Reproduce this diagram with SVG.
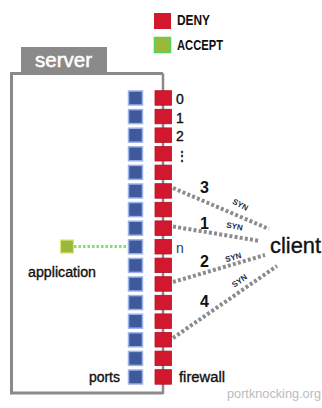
<svg xmlns="http://www.w3.org/2000/svg" width="322" height="408" viewBox="0 0 322 408">
<defs>
<style>
.t{font-family:"Liberation Sans",Arial,sans-serif;fill:#111}
.m{stroke:#111;stroke-width:0.35}
.b{font-weight:bold}
.red{fill:#D2182E;stroke:#B01226;stroke-width:0.8}
.blue{fill:#3E5A9B;stroke:#9EB2EC;stroke-width:1.5}
.knock{fill:none;stroke:#8C8C8C;stroke-width:4;stroke-dasharray:3 2.2}
.syn{font-family:"Liberation Sans",Arial,sans-serif;font-size:8px;font-weight:bold;fill:#1E2A4E}
</style>
</defs>
<rect width="322" height="408" fill="#fff"/>
<g id="legend">
<rect x="154" y="13" width="17" height="16" fill="#D2182E"/>
<text class="t b" x="177" y="25" font-size="14" textLength="33" lengthAdjust="spacingAndGlyphs">DENY</text>
<rect x="154.5" y="37.5" width="16" height="15" fill="#9AB83A" stroke="#55D455" stroke-width="1.5"/>
<text class="t b" x="177" y="50" font-size="14" textLength="46" lengthAdjust="spacingAndGlyphs">ACCEPT</text>
</g>
<g id="server">
<rect x="21" y="47" width="86" height="26" fill="#8A8A8A"/>
<text x="35" y="67" font-family="Liberation Sans,Arial,sans-serif" font-size="20" fill="#fff" stroke="#fff" stroke-width="0.5" textLength="57" lengthAdjust="spacingAndGlyphs">server</text>
<path d="M163,393 L11.5,393 L11.5,73.5 L163,73.5" fill="none" stroke="#8A8A8A" stroke-width="3"/>
</g>
<g id="firewall">
<line x1="163" y1="73.5" x2="163" y2="394" stroke="#8A8A8A" stroke-width="2.5"/>
<g id="fw-squares">
<rect class="red" x="155" y="90.7" width="16.5" height="14.5"/>
<rect class="red" x="155" y="109.3" width="16.5" height="14.5"/>
<rect class="red" x="155" y="127.9" width="16.5" height="14.5"/>
<rect class="red" x="155" y="146.5" width="16.5" height="14.5"/>
<rect class="red" x="155" y="165.1" width="16.5" height="14.5"/>
<rect class="red" x="155" y="183.7" width="16.5" height="14.5"/>
<rect class="red" x="155" y="202.3" width="16.5" height="14.5"/>
<rect class="red" x="155" y="220.9" width="16.5" height="14.5"/>
<rect class="red" x="155" y="239.5" width="16.5" height="14.5"/>
<rect class="red" x="155" y="258.1" width="16.5" height="14.5"/>
<rect class="red" x="155" y="276.7" width="16.5" height="14.5"/>
<rect class="red" x="155" y="295.3" width="16.5" height="14.5"/>
<rect class="red" x="155" y="313.9" width="16.5" height="14.5"/>
<rect class="red" x="155" y="332.5" width="16.5" height="14.5"/>
<rect class="red" x="155" y="351.1" width="16.5" height="14.5"/>
<rect class="red" x="155" y="369.7" width="16.5" height="14.5"/>
</g>
<text class="t m" x="176" y="104" font-size="14">0</text>
<text class="t m" x="176" y="122.6" font-size="14">1</text>
<text class="t m" x="176" y="141.2" font-size="14">2</text>
<text class="t b" x="176" y="159.5" font-size="12">⋮</text>
<text class="t" x="176" y="252.5" font-size="14" style="fill:#2A3A66">n</text>
<text class="t m" x="179" y="382" font-size="14" textLength="46" lengthAdjust="spacingAndGlyphs">firewall</text>
</g>
<g id="ports">
<rect class="blue" x="128.5" y="91" width="14" height="14"/>
<rect class="blue" x="128.5" y="109.6" width="14" height="14"/>
<rect class="blue" x="128.5" y="128.2" width="14" height="14"/>
<rect class="blue" x="128.5" y="146.8" width="14" height="14"/>
<rect class="blue" x="128.5" y="165.4" width="14" height="14"/>
<rect class="blue" x="128.5" y="184" width="14" height="14"/>
<rect class="blue" x="128.5" y="202.6" width="14" height="14"/>
<rect class="blue" x="128.5" y="221.2" width="14" height="14"/>
<rect class="blue" x="128.5" y="239.8" width="14" height="14"/>
<rect class="blue" x="128.5" y="258.4" width="14" height="14"/>
<rect class="blue" x="128.5" y="277" width="14" height="14"/>
<rect class="blue" x="128.5" y="295.6" width="14" height="14"/>
<rect class="blue" x="128.5" y="314.2" width="14" height="14"/>
<rect class="blue" x="128.5" y="332.8" width="14" height="14"/>
<rect class="blue" x="128.5" y="351.4" width="14" height="14"/>
<rect class="blue" x="128.5" y="370" width="14" height="14"/>
<text class="t m" x="120" y="382" font-size="14" text-anchor="end">ports</text>
</g>
<g id="application">
<rect x="60.5" y="240" width="13" height="13" fill="#9AB83A" stroke="#DCE67A" stroke-width="1.2"/>
<text class="t m" x="28" y="277" font-size="14" textLength="68" lengthAdjust="spacingAndGlyphs">application</text>
</g>
<g id="client">
<text class="t m" x="270" y="253" font-size="22" textLength="51" lengthAdjust="spacingAndGlyphs">client</text>
</g>
<g id="connectors">
<line x1="74" y1="246.5" x2="127" y2="246.5" stroke="#7EE070" stroke-width="3" stroke-dasharray="2.5 2"/>
<line class="knock" x1="173" y1="188" x2="269" y2="229"/>
<line class="knock" x1="173" y1="226.5" x2="260" y2="241"/>
<line class="knock" x1="173" y1="282" x2="265" y2="255"/>
<line class="knock" x1="173" y1="338" x2="277" y2="266"/>
<text class="t b" x="200" y="193" font-size="16">3</text>
<text class="t b" x="200" y="228.5" font-size="16">1</text>
<text class="t b" x="200" y="267" font-size="16">2</text>
<text class="t b" x="200" y="307" font-size="16">4</text>
<text class="syn" transform="translate(239,207) rotate(28)" text-anchor="middle">SYN</text>
<text class="syn" transform="translate(234,229) rotate(10)" text-anchor="middle">SYN</text>
<text class="syn" transform="translate(234,260) rotate(-15)" text-anchor="middle">SYN</text>
<text class="syn" transform="translate(241,283) rotate(-35)" text-anchor="middle">SYN</text>
</g>
<text x="227" y="398" font-family="Liberation Sans,Arial,sans-serif" font-size="12.5" fill="#BBBBBB" textLength="94" lengthAdjust="spacingAndGlyphs">portknocking.org</text>
</svg>
